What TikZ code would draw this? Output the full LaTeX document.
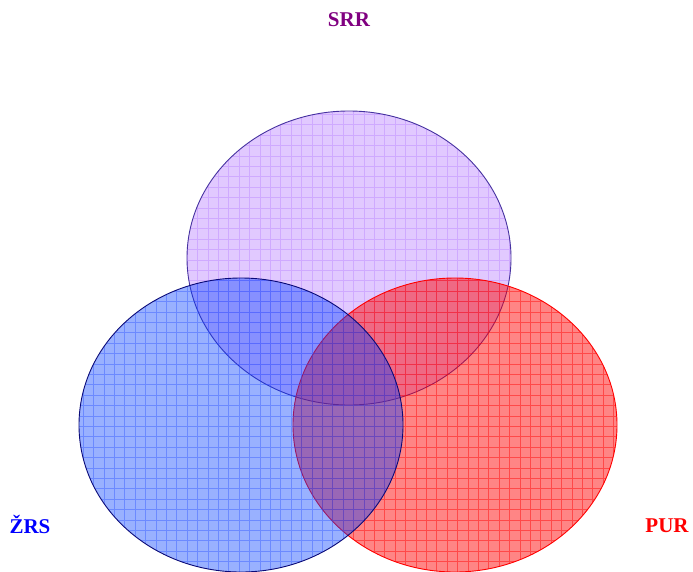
\documentclass[tikz,border=0pt]{standalone}
\usepackage{fontspec}
\setmainfont{Liberation Serif}
\usetikzlibrary{calc}
\definecolor{srrfill}{RGB}{170,100,255}
\definecolor{srrgrid}{RGB}{190,140,255}
\definecolor{srrline}{RGB}{70,50,160}
\definecolor{zrsfill}{RGB}{0,60,255}
\definecolor{zrsgrid}{RGB}{40,80,255}
\definecolor{zrsline}{RGB}{10,10,120}
\definecolor{purfill}{RGB}{255,0,0}
\definecolor{purgrid}{RGB}{255,0,0}
\definecolor{srrtext}{RGB}{128,0,128}
\tikzset{
  skup/.style   = {line width=0.9pt},
  mreza/.style  = {line width=0.7pt, xstep=10.4pt, ystep=10.4pt},
  oznaka/.style = {font=\fontsize{21}{25}\selectfont\bfseries}
}

\begin{document}
\begin{tikzpicture}[x=1pt, y=-1pt]
  \useasboundingbox (0,0) rectangle (693,571);
  \coordinate (S) at (349,258);
  \coordinate (Z) at (241,425);
  \coordinate (P) at (455,425);

  % SRR
  \fill[srrfill, fill opacity=0.35] (S) ellipse [x radius=162, y radius=147];
  \begin{scope}
    \clip (S) ellipse [x radius=162, y radius=147];
    \draw[mreza, srrgrid, opacity=0.5] (180,105) grid (520,410);
  \end{scope}
  \draw[skup, srrline] (S) ellipse [x radius=162, y radius=147];

  % PUR
  \fill[purfill, fill opacity=0.48] (P) ellipse [x radius=162, y radius=147];
  \begin{scope}
    \clip (P) ellipse [x radius=162, y radius=147];
    \draw[mreza, purgrid, opacity=0.45] (285,270) grid (625,580);
  \end{scope}
  \draw[skup, red] (P) ellipse [x radius=162, y radius=147];

  % ZRS
  \fill[zrsfill, fill opacity=0.4] (Z) ellipse [x radius=162, y radius=147];
  \begin{scope}
    \clip (Z) ellipse [x radius=162, y radius=147];
    \draw[mreza, zrsgrid, opacity=0.4] (70,270) grid (410,580);
  \end{scope}
  \draw[skup, zrsline] (Z) ellipse [x radius=162, y radius=147];

  \node[oznaka, text=srrtext] (srr) at (349,20) {SRR};
  \node[oznaka, text=blue] (zrs) at (30,524) {ŽRS};
  \node[oznaka, text=red] (pur) at (667,526) {PUR};
\end{tikzpicture}
\end{document}
